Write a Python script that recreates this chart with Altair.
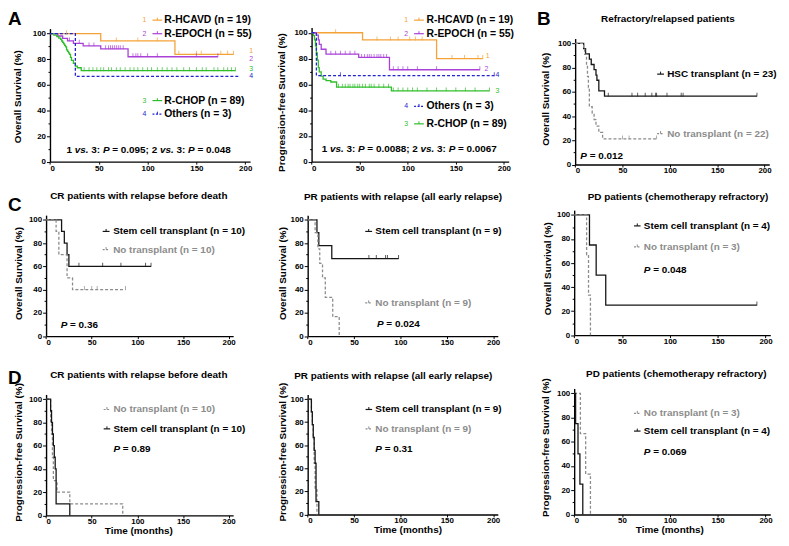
import altair as alt
import pandas as pd

# ---------------- data ----------------
# Panel A, overall survival
A1_hcavd_t = [0, 52, 128, 188]
A1_hcavd_s = [100, 94.4, 83.9, 83.9]
A1_hcavd_c = [17, 68, 90, 110, 132, 150, 155, 175, 182, 188]
A1_epoch_t = [0, 8, 13, 18, 24, 34, 52, 80, 172]
A1_epoch_s = [100, 98.2, 96.3, 94.4, 92.5, 90.5, 88.2, 82.0, 82.0]
A1_epoch_c = [20, 30, 40, 45, 57, 60, 62, 64, 66, 68, 70, 72, 75, 85, 88, 90, 93, 100, 110, 150, 172]
A1_chop_t = [0, 4, 7, 9, 11, 12, 13, 14, 15, 16, 17, 18, 19, 20, 21, 22, 24, 26, 28, 32, 190]
A1_chop_s = [100, 98.9, 97.8, 96.6, 95.5, 94.3, 93.2, 92.0, 90.9, 89.7, 87.4, 86.2, 85.0, 83.9,
             81.5, 79.2, 76.9, 74.6, 73.4, 71.1, 71.1]
A1_chop_c = [35, 40, 44, 48, 52, 55, 60, 63, 68, 72, 77, 82, 86, 90, 95, 100, 104, 110, 115, 120,
             125, 130, 137, 143, 150, 156, 160, 168, 172, 178, 182, 186, 190]
A1_oth_t = [0, 26, 193]
A1_oth_s = [100, 66.7, 66.7]
A1_oth_c = []

# Panel A, progression-free survival
A2_hcavd_t = [0, 53, 130, 178]
A2_hcavd_s = [100, 94.4, 80.0, 80.0]
A2_hcavd_c = [25, 68, 82, 90, 102, 108, 115, 146, 159, 173, 178]
A2_epoch_t = [0, 5, 7, 8, 10, 15, 49, 81, 175]
A2_epoch_s = [100, 98.2, 94.5, 90.9, 87.2, 83.4, 80.9, 71.3, 71.3]
A2_epoch_c = [20, 25, 30, 35, 40, 45, 52, 55, 58, 60, 62, 65, 68, 70, 72, 75, 78, 85, 90, 95, 100, 110, 130, 175]
A2_oth_t = [0, 5, 190]
A2_oth_s = [100, 66.7, 66.7]
A2_oth_c = [30, 190]
A2_chop_t = [0, 2, 3, 4, 5, 6, 7, 8, 10, 12, 15, 20, 26, 83, 185]
A2_chop_s = [100, 97.8, 94.4, 89.9, 84.3, 78.7, 73.0, 69.7, 66.3, 64.0, 62.9, 61.8, 57.8, 54.9, 54.9]
A2_chop_c = [28, 32, 35, 38, 40, 43, 45, 48, 50, 53, 56, 60, 62, 65, 70, 75, 80, 85, 90, 95, 100,
             105, 110, 120, 130, 140, 150, 160, 170, 185]

# Panel B
B_hsc_t = [0, 9, 11, 15, 17, 20, 22, 23, 25, 31, 192]
B_hsc_s = [100, 95.7, 91.3, 87.0, 82.6, 78.3, 73.9, 69.6, 60.9, 56.5, 56.5]
B_hsc_c = [35, 60, 66, 74, 81, 85, 86, 97, 112, 114, 192]
B_no_t = [0, 9, 10, 12, 13, 14, 15, 18, 20, 22, 25, 29, 86]
B_no_s = [100, 95.5, 90.9, 81.8, 72.7, 63.6, 47.7, 42.4, 37.1, 31.8, 26.5, 21.2, 21.2]
B_no_c = [50, 57, 86]

# Panel C (overall survival)
C1_sct_t = [0, 17, 20, 23, 25, 115]
C1_sct_s = [100, 90, 80, 70, 60, 60]
C1_sct_c = [36, 62, 82, 109, 115]
C1_no_t = [0, 11, 14, 23, 29, 87]
C1_no_s = [100, 90, 70, 50, 40, 40]
C1_no_c = [42, 50, 56, 87]
C2_sct_t = [0, 10, 12, 26, 98]
C2_sct_s = [100, 88.9, 77.8, 66.7, 66.7]
C2_sct_c = [66, 74, 84, 86, 98]
C2_no_t = [0, 8, 11, 13, 16, 19, 27, 34]
C2_no_s = [100, 88.9, 75, 62.5, 50, 33.3, 16.7, 0]
C2_no_c = []
C3_sct_t = [0, 16, 23, 33, 191]
C3_sct_s = [100, 75, 50, 25, 25]
C3_sct_c = [191]
C3_no_t = [0, 13, 15, 17]
C3_no_s = [100, 66.7, 33.3, 0]
C3_no_c = []

# Panel D (progression-free survival)
D1_sct_t = [0, 5, 6, 7, 8, 9, 10, 11, 26]
D1_sct_s = [100, 90, 80, 70, 60, 50, 40, 10, 0]
D1_no_t = [0, 5, 6, 7, 8, 12, 26, 84]
D1_no_s = [100, 80, 70, 50, 30, 20, 10, 0]
D2_sct_t = [0, 4, 5, 6, 7, 8, 9, 12]
D2_sct_s = [100, 88.9, 77.8, 66.7, 55.6, 44.4, 11.1, 0]
D2_no_t = [0, 4, 5, 6, 7, 8, 10]
D2_no_s = [100, 88.9, 77.8, 66.7, 44.4, 22.2, 0]
D3_sct_t = [0, 1.5, 4, 6, 9]
D3_sct_s = [100, 75, 50, 25, 0]
D3_no_t = [0, 6.5, 12, 17]
D3_no_s = [100, 66.7, 33.3, 0]

# ---------------- style / layout ----------------
FONT = "Liberation Sans"
W, H = 260, 180
XMAX, YMAX = 205, 104
KX, KY = 0.985, 0.978
ORANGE, PURPLE, GREEN, BLUE = "#F5A236", "#A940D8", "#2EBE2A", "#2323CF"
BLACK, GREY = "#151515", "#8c8c8c"
SOLID, DASH = [1, 0], [3, 2]
DUMMY = pd.DataFrame({"z": [0]})


def X(r):
    return (r - 2) * KX


def Y(r):
    return (r - 2) * KY


AW = {" ": 278, ".": 278, ":": 333, ";": 333, "=": 584, "P": 667, "v": 556, "s": 556}


def tw(s, size):
    return sum(AW.get(ch, 556) for ch in s) * size / 1000


def T(s, xr, yr, size=10, color="black", align="left", weight="bold", angle=0,
      baseline="middle", style="normal"):
    def f(ox, oy):
        return alt.Chart(DUMMY).mark_text(
            text=s, align=align, baseline=baseline, font=FONT, fontSize=size,
            fontWeight=weight, fontStyle=style, color=color, angle=angle
        ).encode(x=alt.value(X(xr) - ox), y=alt.value(Y(yr) - oy))
    return [f]


def R(segs, xr, yr, size=10):
    out = []
    cx = 0.0
    for txt, it in segs:
        lead = len(txt) - len(txt.lstrip(" "))
        core = txt.strip(" ")
        xoff = cx + tw(" " * lead, size)
        out += T(core, xr + xoff / KX, yr, size=size, style="italic" if it else "normal")
        cx += tw(txt, size)
    return out


def S(x1r, x2r, yr, color, dash=False):
    def f(ox, oy):
        kw = dict(color=color, strokeWidth=1.2)
        if dash:
            kw["strokeDash"] = [2, 1.5]
        return alt.Chart(DUMMY).mark_rule(**kw).encode(
            x=alt.value(X(x1r) - ox), x2=alt.value(X(x2r) - ox), y=alt.value(Y(yr) - oy))

    def g(ox, oy):
        xm = X((x1r + x2r) / 2) - ox
        return alt.Chart(DUMMY).mark_rule(color=color, strokeWidth=1).encode(
            x=alt.value(xm), y=alt.value(Y(yr) - oy - 2.5), y2=alt.value(Y(yr) - oy))
    return [f, g]


def step_at(t, s, x):
    v = s[0]
    for ti, si in zip(t, s):
        if ti <= x:
            v = si
    return v


def series_df(series):
    rows = []
    for se in series:
        for ti, si in zip(se["t"], se["s"]):
            rows.append(dict(t=ti, s=si, g=se["name"], k="line"))
        for ci in se.get("c", []):
            rows.append(dict(t=ci, s=step_at(se["t"], se["s"], ci), g=se["name"], k="cens"))
    return pd.DataFrame(rows)


def ser(name, t, s, c, color, dash):
    return dict(name=name, t=t, s=s, c=c, color=color, dash=dash)


def panel(row, col, geo, series, annots):
    x0, x200, y100, y0 = geo
    ox, oy = col * W, row * H
    lx0 = X(x0) - ox
    lx200 = X(x200) - ox
    xb = lx0 + (lx200 - lx0) * XMAX / 200
    ly0 = Y(y0) - oy
    ly100 = Y(y100) - oy
    yt = ly0 - (ly0 - ly100) * YMAX / 100
    xs = alt.Scale(domain=[0, XMAX], range=[lx0, xb], nice=False, zero=False)
    ys = alt.Scale(domain=[0, YMAX], range=[ly0, yt], nice=False, zero=False)
    common = dict(title=None, grid=False, domainColor="black", domainWidth=1.4,
                  tickColor="black", tickWidth=1, labelFont=FONT, labelFontWeight="bold",
                  labelFontSize=8, labelColor="black")
    xaxis = alt.Axis(values=[0, 50, 100, 150, 200], offset=ly0 - H, tickSize=2.5,
                     labelPadding=0, **common)
    yaxis = alt.Axis(values=list(range(0, 101, 10)), offset=-lx0,
                     labelExpr="datum.value % 20 === 0 ? datum.label : ''",
                     tickSize={"condition": {"test": "datum.value % 20 === 0", "value": 3.5},
                               "value": 2},
                     labelPadding=1, **common)
    names = [s["name"] for s in series]
    base = alt.Chart(series_df(series)).encode(
        x=alt.X("t:Q", scale=xs, axis=xaxis),
        y=alt.Y("s:Q", scale=ys, axis=yaxis),
        color=alt.Color("g:N", scale=alt.Scale(domain=names, range=[s["color"] for s in series]),
                        legend=None),
    )
    lines = base.transform_filter("datum.k == 'line'").mark_line(
        interpolate="step-after", strokeWidth=1.3
    ).encode(strokeDash=alt.StrokeDash(
        "g:N", scale=alt.Scale(domain=names, range=[s["dash"] for s in series]), legend=None))
    cens = base.transform_filter("datum.k == 'cens'").mark_tick(
        orient="vertical", size=4, thickness=1, yOffset=-1.5)
    layers = [lines, cens] + [a(ox, oy) for a in annots]
    return alt.layer(*layers).properties(width=W, height=H)


def pv(val):
    return [("P", 1), (" = " + val, 0)]


def vs(a, b):
    return [("1 ", 0), ("vs.", 1), (" 3: ", 0), ("P", 1), (" = " + a + "; 2 ", 0), ("vs.", 1),
            (" 3: ", 0), ("P", 1), (" = " + b, 0)]


def num(n, xr, yr, color):
    return T(n, xr, yr, size=7, color=color, weight="normal", align="center")


# ---------------- panels ----------------
pA1 = panel(0, 0, (45, 245, 25, 157), [
    ser("A1 R-HCAVD", A1_hcavd_t, A1_hcavd_s, A1_hcavd_c, ORANGE, SOLID),
    ser("A1 R-EPOCH", A1_epoch_t, A1_epoch_s, A1_epoch_c, PURPLE, SOLID),
    ser("A1 R-CHOP", A1_chop_t, A1_chop_s, A1_chop_c, GREEN, SOLID),
    ser("A1 Others", A1_oth_t, A1_oth_s, A1_oth_c, BLUE, DASH),
],
    T("A", 2, 1, size=19, baseline="top")
    + T("Overall Survival (%)", 12, 90, angle=270, align="center")
    + num("1", 141.7, 11, ORANGE) + S(150, 160, 11, ORANGE) + T("R-HCAVD (n = 19)", 162, 11, size=10.5)
    + num("2", 141.7, 25, PURPLE) + S(150, 160, 25, PURPLE) + T("R-EPOCH (n = 55)", 162, 25, size=10.5)
    + num("3", 141.7, 94, GREEN) + S(150, 160, 94, GREEN) + T("R-CHOP (n = 89)", 162, 94, size=10.5)
    + num("4", 141.7, 108, BLUE) + S(150, 160, 108, BLUE, True) + T("Others (n = 3)", 162, 108, size=10.5)
    + num("1", 251, 43, ORANGE) + num("2", 251, 51, PURPLE) + num("3", 251, 61, GREEN)
    + num("4", 251, 69, BLUE)
    + R(vs("0.095", "0.048"), 62, 145)
)

pA2 = panel(0, 1, (313, 510, 24, 157), [
    ser("A2 R-HCAVD", A2_hcavd_t, A2_hcavd_s, A2_hcavd_c, ORANGE, SOLID),
    ser("A2 R-EPOCH", A2_epoch_t, A2_epoch_s, A2_epoch_c, PURPLE, SOLID),
    ser("A2 R-CHOP", A2_chop_t, A2_chop_s, A2_chop_c, GREEN, SOLID),
    ser("A2 Others", A2_oth_t, A2_oth_s, A2_oth_c, BLUE, DASH),
],
    T("Progression-free Survival (%)", 283, 96, angle=270, align="center")
    + num("1", 410, 11, ORANGE) + S(418, 428, 11, ORANGE) + T("R-HCAVD (n = 19)", 430.7, 11, size=10.5)
    + num("2", 410, 25, PURPLE) + S(418, 428, 25, PURPLE) + T("R-EPOCH (n = 55)", 430.7, 25, size=10.5)
    + num("4", 410, 100, BLUE) + S(418, 428, 100, BLUE, True) + T("Others (n = 3)", 430.7, 100, size=10.5)
    + num("3", 410, 118, GREEN) + S(418, 428, 118, GREEN) + T("R-CHOP (n = 89)", 430.7, 118, size=10.5)
    + num("1", 493.3, 48, ORANGE) + num("2", 492, 61, PURPLE) + num("4", 503.3, 68, BLUE)
    + num("3", 503.3, 84, GREEN)
    + R(vs("0.0088", "0.0067"), 323.3, 144)
)

pB = panel(0, 2, (583, 777, 35, 160), [
    ser("B HSC", B_hsc_t, B_hsc_s, B_hsc_c, BLACK, SOLID),
    ser("B No", B_no_t, B_no_s, B_no_c, GREY, DASH),
],
    T("B", 544, 1, size=19, baseline="top")
    + T("Refractory/relapsed patients", 678, 10, align="center")
    + T("Overall Survival (%)", 553, 92.5, angle=270, align="center")
    + S(667, 674, 66.7, BLACK) + T("HSC transplant (n = 23)", 677.3, 66.7)
    + S(667, 674, 128, GREY, True) + T("No transplant (n = 22)", 677.3, 128, color=GREY)
    + R(pv("0.012"), 588.3, 151)
)

pC1 = panel(1, 0, (41, 228, 217, 337), [
    ser("C1 SCT", C1_sct_t, C1_sct_s, C1_sct_c, BLACK, SOLID),
    ser("C1 No", C1_no_t, C1_no_s, C1_no_c, GREY, DASH),
],
    T("C", 2, 193, size=19, baseline="top")
    + T("CR patients with relapse before death", 136, 192.7, align="center")
    + T("Overall Survival (%)", 13.3, 272.5, angle=270, align="center")
    + S(99, 106, 229, BLACK) + T("Stem cell transplant (n = 10)", 109.7, 229)
    + S(99, 106, 247.7, GREY, True) + T("No transplant (n = 10)", 109.7, 247.7, color=GREY)
    + R(pv("0.36"), 56, 325.7)
)

pC2 = panel(1, 1, (309, 499, 217, 337), [
    ser("C2 SCT", C2_sct_t, C2_sct_s, C2_sct_c, BLACK, SOLID),
    ser("C2 No", C2_no_t, C2_no_s, C2_no_c, GREY, DASH),
],
    T("PR patients with relapse (all early relapse)", 406.7, 193.3, align="center")
    + T("Overall Survival (%)", 283.3, 272.5, angle=270, align="center")
    + S(368, 375, 229, BLACK) + T("Stem cell transplant (n = 9)", 378.3, 229)
    + S(368, 375, 302.7, GREY, True) + T("No transplant (n = 9)", 378.3, 302.7, color=GREY)
    + R(pv("0.024"), 380, 324.3)
)

pC3 = panel(1, 2, (582, 778, 212, 336), [
    ser("C3 SCT", C3_sct_t, C3_sct_s, C3_sct_c, BLACK, SOLID),
    ser("C3 No", C3_no_t, C3_no_s, C3_no_c, GREY, DASH),
],
    T("PD patients (chemotherapy refractory)", 688.3, 193.3, align="center")
    + T("Overall Survival (%)", 555, 267.5, angle=270, align="center")
    + S(643.3, 650, 223.3, BLACK) + T("Stem cell transplant (n = 4)", 653.3, 223.3)
    + S(643.3, 650, 245, GREY, True) + T("No transplant (n = 3)", 653.3, 245, color=GREY)
    + R(pv("0.048"), 653.3, 269.3)
)

pD1 = panel(2, 0, (41, 228, 402, 522), [
    ser("D1 No", D1_no_t, D1_no_s, [], GREY, DASH),
    ser("D1 SCT", D1_sct_t, D1_sct_s, [], BLACK, SOLID),
],
    T("D", 2, 371.5, size=19, baseline="top")
    + T("CR patients with relapse before death", 136, 376.7, align="center")
    + T("Progression-free Survival (%)", 13, 457, angle=270, align="center")
    + S(100, 106.7, 412.7, GREY, True) + T("No transplant (n = 10)", 110, 412.7, color=GREY)
    + S(100, 106.7, 432.7, BLACK) + T("Stem cell transplant (n = 10)", 110, 432.7)
    + R(pv("0.89"), 110, 453.3)
    + T("Time (months)", 136, 538, align="center")
)

pD2 = panel(2, 1, (309, 499, 402, 521), [
    ser("D2 No", D2_no_t, D2_no_s, [], GREY, DASH),
    ser("D2 SCT", D2_sct_t, D2_sct_s, [], BLACK, SOLID),
],
    T("PR patients with relapse (all early relapse)", 396.7, 378.3, align="center")
    + T("Progression-free Survival (%)", 283.3, 456.7, angle=270, align="center")
    + S(368.3, 375, 412.7, BLACK) + T("Stem cell transplant (n = 9)", 378.3, 412.7)
    + S(368.3, 375, 432.7, GREY, True) + T("No transplant (n = 9)", 378.3, 432.7, color=GREY)
    + R(pv("0.31"), 378.3, 454)
    + T("Time (months)", 411.7, 537.5, align="center")
)

pD3 = panel(2, 2, (582, 778, 396, 521), [
    ser("D3 No", D3_no_t, D3_no_s, [], GREY, DASH),
    ser("D3 SCT", D3_sct_t, D3_sct_s, [], BLACK, SOLID),
],
    T("PD patients (chemotherapy refractory)", 686.7, 376, align="center")
    + T("Progression-free Survival (%)", 553.3, 452, angle=270, align="center")
    + S(643.3, 650, 416.7, GREY, True) + T("No transplant (n = 3)", 653.3, 416.7, color=GREY)
    + S(643.3, 650, 435, BLACK) + T("Stem cell transplant (n = 4)", 653.3, 435)
    + R(pv("0.069"), 653.3, 456.7)
    + T("Time (months)", 680, 537.5, align="center")
)

chart = alt.concat(
    pA1, pA2, pB, pC1, pC2, pC3, pD1, pD2, pD3,
    columns=3, spacing=0, bounds="flush"
).resolve_scale(
    color="independent", strokeDash="independent"
).properties(padding=0, background="white").configure_view(stroke=None)

chart.save("out.html", embed_options={"renderer": "svg", "actions": False})
